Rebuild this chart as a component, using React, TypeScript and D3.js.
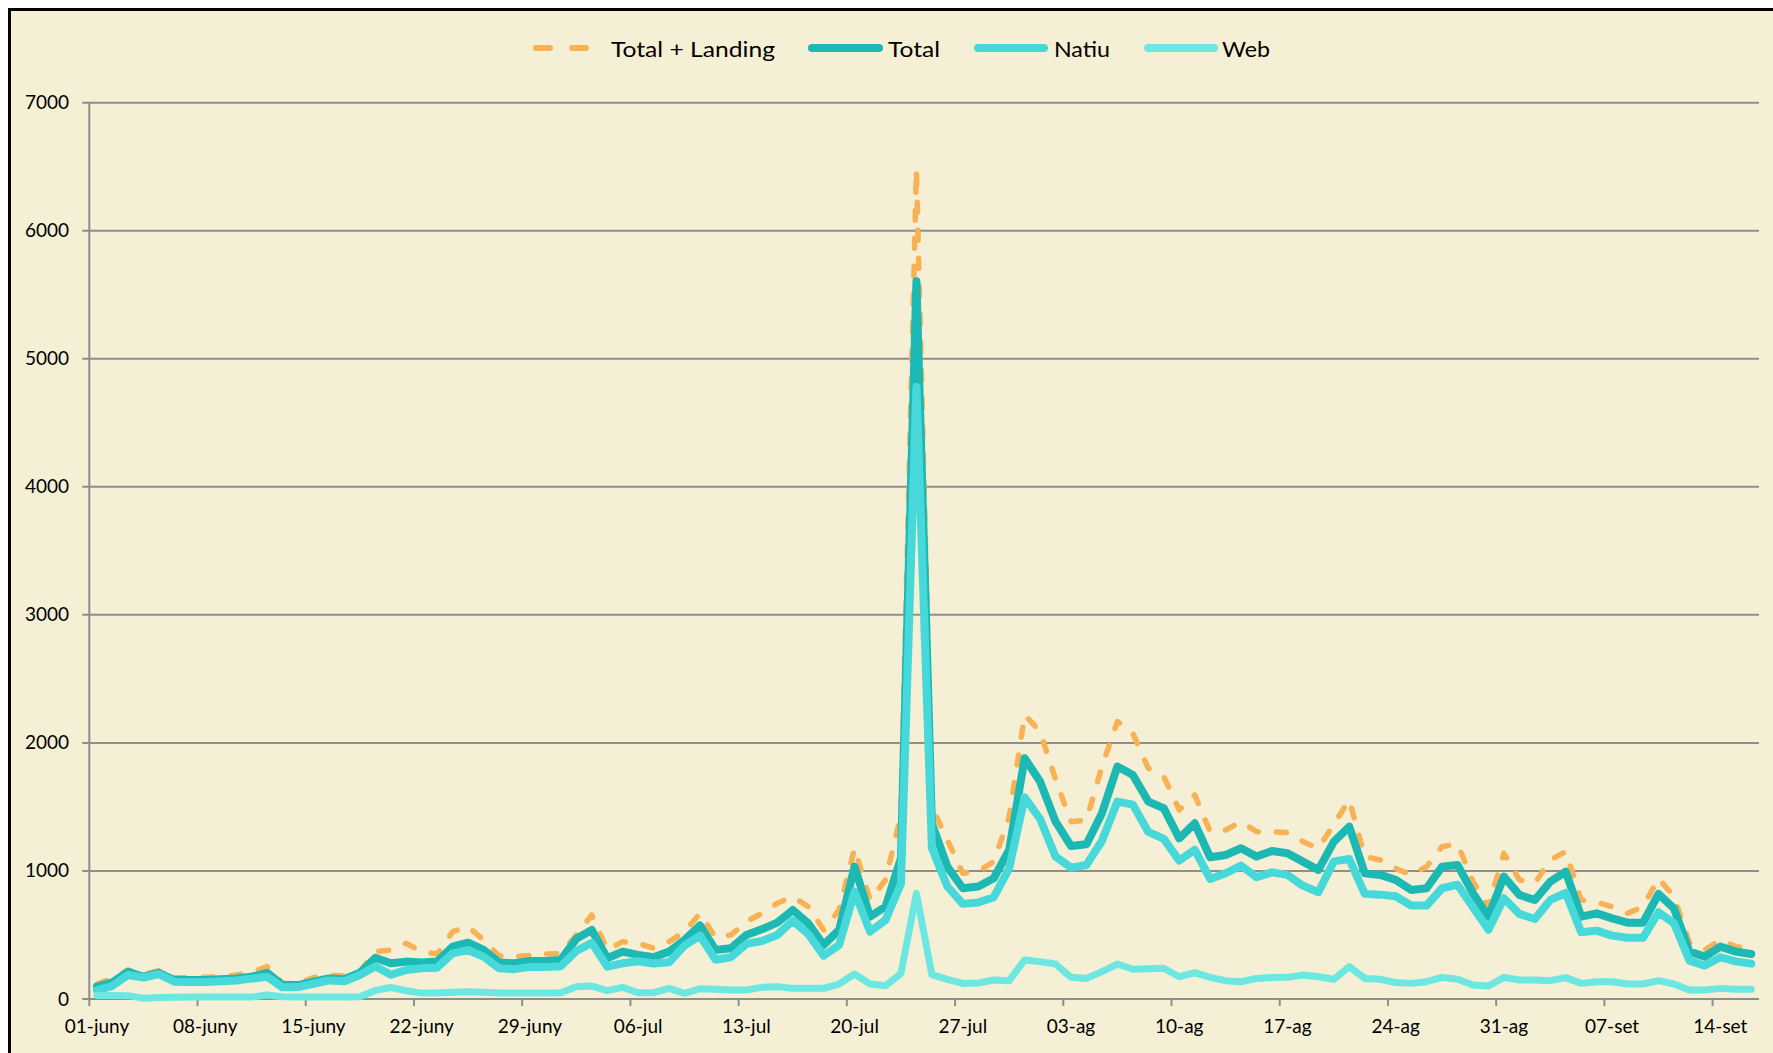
import React from 'react';
import * as d3 from 'd3';

// daily values, 01-juny .. 16-set
const totalLanding = [
  117, 161, 227, 190, 221, 167, 165, 170, 172, 187, 208, 253, 122, 122, 167, 185, 180, 213, 370, 383,
  435, 370, 352, 526, 565, 461, 336, 331, 340, 352, 355, 500, 656, 383, 448, 435, 396, 448, 526, 669,
  482, 500, 604, 669, 747, 800, 721, 539, 695, 1177, 773, 930, 1440, 6480, 1500, 1242, 982, 995, 1073, 1420,
  2219, 2089, 1714, 1385, 1398, 1815, 2167, 2076, 1802, 1737, 1477, 1594, 1307, 1320, 1385, 1307, 1307, 1300, 1229, 1177,
  1365, 1555, 1112, 1086, 1021, 969, 1034, 1190, 1211, 917, 721, 1138, 930, 904, 1086, 1151, 773, 755, 721, 669,
  721, 943, 799, 440, 383, 461, 409, 396,
];
const total = [
  96, 130, 213, 174, 205, 148, 148, 148, 154, 161, 174, 205, 109, 109, 135, 161, 154, 205, 322, 279,
  292, 286, 292, 409, 440, 383, 286, 279, 297, 297, 305, 470, 539, 318, 370, 344, 326, 370, 461, 575,
  383, 396, 500, 544, 596, 695, 591, 422, 539, 1034, 643, 721, 1100, 5605, 1370, 1034, 865, 878, 943, 1164,
  1880, 1698, 1385, 1195, 1208, 1450, 1815, 1750, 1542, 1490, 1255, 1372, 1107, 1125, 1177, 1112, 1156, 1138, 1073, 1008,
  1229, 1346, 982, 969, 930, 852, 865, 1034, 1047, 826, 643, 956, 813, 773, 917, 995, 643, 669, 630, 596,
  596, 820, 708, 370, 331, 409, 370, 352,
];
const natiu = [
  68, 103, 187, 168, 194, 135, 133, 132, 138, 145, 159, 174, 91, 93, 119, 145, 138, 187, 255, 189,
  227, 240, 245, 357, 383, 331, 240, 233, 251, 250, 256, 375, 438, 253, 279, 295, 277, 287, 417, 495,
  307, 326, 430, 453, 500, 612, 508, 339, 422, 839, 526, 617, 900, 4780, 1180, 880, 743, 753, 795, 1021,
  1575, 1406, 1112, 1026, 1047, 1236, 1542, 1518, 1305, 1250, 1081, 1166, 938, 982, 1042, 951, 989, 969, 885, 834,
  1075, 1093, 821, 815, 802, 730, 730, 865, 893, 717, 541, 787, 665, 625, 774, 828, 521, 534, 495, 479,
  479, 677, 591, 300, 261, 326, 294, 276,
];
const web = [
  28, 27, 26, 6, 11, 13, 15, 16, 16, 16, 15, 31, 18, 16, 16, 16, 16, 18, 67, 90,
  65, 46, 47, 52, 57, 52, 46, 46, 46, 47, 49, 95, 101, 65, 91, 49, 49, 83, 44, 80,
  76, 70, 70, 91, 96, 83, 83, 83, 117, 195, 117, 104, 200, 825, 190, 154, 122, 125, 148, 143,
  305, 292, 273, 169, 161, 214, 273, 232, 237, 240, 174, 206, 169, 143, 135, 161, 167, 169, 188, 174,
  154, 253, 161, 154, 128, 122, 135, 169, 154, 109, 102, 169, 148, 148, 143, 167, 122, 135, 135, 117,
  117, 143, 117, 70, 70, 83, 76, 76,
];

const tickLabels = [
  '01-juny', '08-juny', '15-juny', '22-juny', '29-juny', '06-jul', '13-jul', '20-jul',
  '27-jul', '03-ag', '10-ag', '17-ag', '24-ag', '31-ag', '07-set', '14-set',
];
const yTicks = [0, 1000, 2000, 3000, 4000, 5000, 6000, 7000];

const seriesNames = ['Total + Landing', 'Total', 'Natiu', 'Web'];
const seriesValues = [totalLanding, total, natiu, web];

const styles = [
  { color: '#F8B254', width: 5.5, dash: '10 18' },
  { color: '#1BB8B4', width: 8, dash: null },
  { color: '#47D9DA', width: 8, dash: null },
  { color: '#6DE7E2', width: 7, dash: null },
];

// legend layout (sample start/end, text start, text width)
const legendLayout = [
  { x0: 536, x1: 586, tx: 611, tw: 164 },
  { x0: 812, x1: 879, tx: 888, tw: 52 },
  { x0: 978, x1: 1044, tx: 1054, tw: 56 },
  { x0: 1148, x1: 1214, tx: 1222, tw: 48 },
];

const W = 1773;
const H = 1053;
const plot = { left: 89.3, right: 1759, top: 102.7, bottom: 999 };
const font = 'Lato, "Open Sans", sans-serif';

export default function App() {
  const x = d3.scaleBand<number>()
    .domain(d3.range(total.length))
    .range([plot.left, plot.right])
    .paddingInner(0)
    .paddingOuter(0);
  const cx = (i: number) => (x(i) as number) + x.bandwidth() / 2;

  const y = d3.scaleLinear().domain([0, 7000]).range([plot.bottom, plot.top]);

  const line = d3.line<number>()
    .x((_, i) => cx(i))
    .y((d) => y(d));

  const gridColor = '#8E8E8E';

  return (
    <svg
      width={W}
      height={H}
      style={{ position: 'absolute', left: 0, top: 0, display: 'block' }}
    >
      <rect x={9.5} y={9.5} width={W + 50} height={H + 50} fill="#F5EFD5" stroke="#000" strokeWidth={3} />

      {/* gridlines + y axis labels */}
      {yTicks.map((t) => (
        <g key={t}>
          <line x1={plot.left - 7} x2={plot.right} y1={y(t)} y2={y(t)} stroke={gridColor} strokeWidth={2} />
          <text
            x={69}
            y={y(t) + 6.5}
            textAnchor="end"
            fontFamily={font}
            fontSize={19}
            fill="#000"
          >
            {t}
          </text>
        </g>
      ))}

      {/* y axis */}
      <line x1={plot.left} x2={plot.left} y1={plot.top} y2={plot.bottom} stroke={gridColor} strokeWidth={2} />

      {/* x ticks + labels */}
      {tickLabels.map((lab, k) => {
        const i = k * 7;
        const tx = x(i) as number;
        return (
          <g key={lab}>
            <line x1={tx} x2={tx} y1={plot.bottom} y2={plot.bottom + 7} stroke={gridColor} strokeWidth={2} />
            <text
              x={cx(i)}
              y={1033}
              textAnchor="middle"
              fontFamily={font}
              fontSize={19}
              fill="#000"
            >
              {lab}
            </text>
          </g>
        );
      })}

      {/* series */}
      {seriesValues.map((vals, s) => (
        <path
          key={seriesNames[s]}
          d={line(vals) || ''}
          fill="none"
          stroke={styles[s].color}
          strokeWidth={styles[s].width}
          strokeDasharray={styles[s].dash || undefined}
          strokeLinecap="round"
          strokeLinejoin="round"
        />
      ))}

      {/* legend */}
      {seriesNames.map((name, s) => {
        const l = legendLayout[s];
        return (
          <g key={name}>
            <line
              x1={l.x0}
              x2={l.x1}
              y1={48}
              y2={48}
              stroke={styles[s].color}
              strokeWidth={s === 0 ? 6 : 8}
              strokeDasharray={s === 0 ? '14 22' : undefined}
              strokeLinecap="round"
            />
            <text
              x={l.tx}
              y={56.5}
              fontFamily={font}
              fontSize={22}
              textLength={l.tw}
              lengthAdjust="spacingAndGlyphs"
              fill="#000"
            >
              {name}
            </text>
          </g>
        );
      })}
    </svg>
  );
}
